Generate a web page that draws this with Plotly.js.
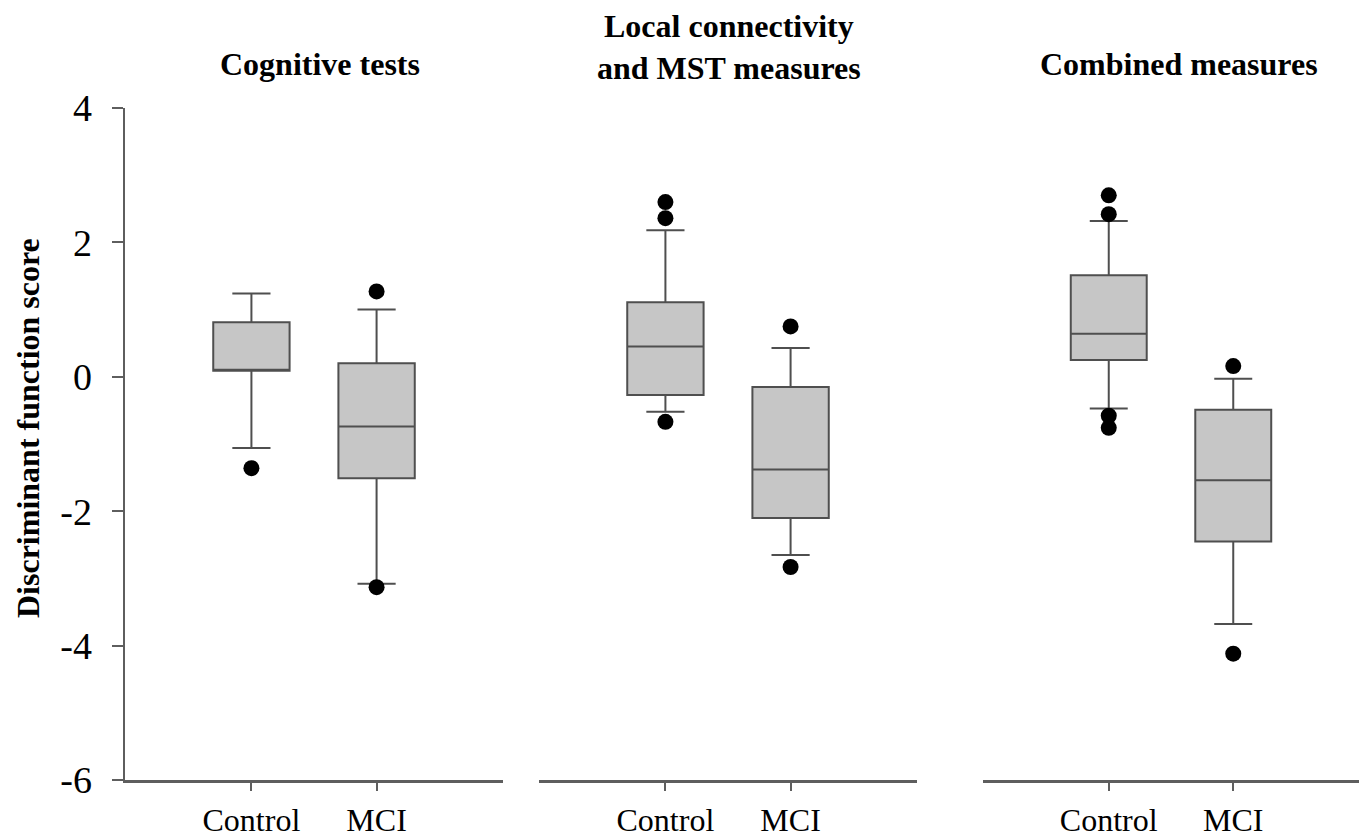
<!DOCTYPE html>
<html>
<head>
<meta charset="utf-8">
<script src="https://cdn.plot.ly/plotly-3.0.1.min.js"></script>
<style>html,body{margin:0;padding:0;background:#fff;}#chart{width:1364px;height:837px;}</style>
</head>
<body>
<div id="chart"></div>
<script>
// Categories and panel titles
const groups = ['Control', 'MCI'];
const panelTitles = ['Cognitive tests', 'Local connectivity<br>and MST measures', 'Combined measures'];
const yTitle = 'Discriminant function score';
const yTickVals = [-6, -4, -2, 0, 2, 4];
const yTickText = ['-6', '-4', '-2', '0', '2', '4'];

// Panel 1: Cognitive tests
const cogLow    = [-1.06, -3.08];
const cogQ1     = [0.09, -1.51];
const cogMedian = [0.09, -0.74];
const cogQ3     = [0.81, 0.20];
const cogHigh   = [1.24, 1.00];
const cogOutX   = ['Control', 'MCI', 'MCI'];
const cogOutY   = [-1.36, 1.27, -3.13];

// Panel 2: Local connectivity and MST measures
const locLow    = [-0.52, -2.65];
const locQ1     = [-0.27, -2.10];
const locMedian = [0.45, -1.38];
const locQ3     = [1.11, -0.15];
const locHigh   = [2.18, 0.43];
const locOutX   = ['Control', 'Control', 'Control', 'MCI', 'MCI'];
const locOutY   = [2.60, 2.36, -0.67, 0.75, -2.83];

// Panel 3: Combined measures
const combLow    = [-0.47, -3.68];
const combQ1     = [0.25, -2.45];
const combMedian = [0.64, -1.54];
const combQ3     = [1.51, -0.49];
const combHigh   = [2.32, -0.03];
const combOutX   = ['Control', 'Control', 'Control', 'Control', 'MCI', 'MCI'];
const combOutY   = [2.70, 2.42, -0.58, -0.76, 0.16, -4.12];

const serif = 'Liberation Serif, Times New Roman, serif';
const lineCol = '#4f4f4f';
const axCol = '#5e5e5e';
const fillCol = '#c6c6c6';

function boxTrace(low, q1, med, q3, high, xa, ya) {
  return {
    type: 'box', x: groups, q1: q1, median: med, q3: q3,
    lowerfence: low, upperfence: high,
    boxpoints: false, width: 0.61, whiskerwidth: 0.5,
    fillcolor: fillCol, line: {color: lineCol, width: 2},
    xaxis: xa, yaxis: ya, showlegend: false, hoverinfo: 'y'
  };
}
function outTrace(xs, ys, xa, ya) {
  return {
    type: 'scatter', mode: 'markers', x: xs, y: ys,
    marker: {color: '#000', size: 16},
    xaxis: xa, yaxis: ya, showlegend: false, hoverinfo: 'y'
  };
}

const data = [
  boxTrace(cogLow, cogQ1, cogMedian, cogQ3, cogHigh, 'x', 'y'),
  outTrace(cogOutX, cogOutY, 'x', 'y'),
  boxTrace(locLow, locQ1, locMedian, locQ3, locHigh, 'x2', 'y2'),
  outTrace(locOutX, locOutY, 'x2', 'y2'),
  boxTrace(combLow, combQ1, combMedian, combQ3, combHigh, 'x3', 'y3'),
  outTrace(combOutX, combOutY, 'x3', 'y3')
];

const W = 1364;
function xAxis(l, r) {
  return {
    domain: [l / W, r / W], type: 'category', categoryarray: groups,
    range: [-1.01, 2.01], showline: true, linecolor: axCol, linewidth: 2.5,
    ticks: 'outside', ticklen: 8, tickwidth: 2, tickcolor: axCol,
    showgrid: false, zeroline: false, fixedrange: true,
    tickfont: {family: serif, size: 32, color: '#000'},
    ticklabelstandoff: 2
  };
}
function yHidden() {
  return {range: [-6, 4], showline: false, showticklabels: false, ticks: '',
          showgrid: false, zeroline: false, fixedrange: true};
}

const titleFont = {family: serif, size: 32, color: '#000'};
const layout = {
  width: 1364, height: 837,
  margin: {l: 0, r: 0, t: 108, b: 57},
  paper_bgcolor: '#fff', plot_bgcolor: '#fff',
  showlegend: false,
  xaxis: xAxis(125, 503),
  xaxis2: Object.assign(xAxis(539, 917), {anchor: 'y2'}),
  xaxis3: Object.assign(xAxis(983, 1359), {anchor: 'y3'}),
  yaxis: {
    range: [-6, 4], tickvals: yTickVals, ticktext: yTickText,
    showline: true, linecolor: axCol, linewidth: 2.5,
    ticks: 'outside', ticklen: 11, tickwidth: 2, tickcolor: axCol,
    showgrid: false, zeroline: false, fixedrange: true,
    tickfont: {family: serif, size: 38, color: '#000'},
    ticklabelstandoff: 12
  },
  yaxis2: Object.assign(yHidden(), {anchor: 'x2'}),
  yaxis3: Object.assign(yHidden(), {anchor: 'x3'}),
  annotations: [
    {text: '<b>' + panelTitles[0] + '</b>', xref: 'paper', yref: 'paper', x: 320 / W, y: (780 - 64) / 672,
     xanchor: 'center', yanchor: 'middle', showarrow: false, font: titleFont},
    {text: '<b>' + panelTitles[1].replace('<br>', '</b><br><b>') + '</b>', xref: 'paper', yref: 'paper', x: 729 / W, y: (780 - 47) / 672,
     xanchor: 'center', yanchor: 'middle', showarrow: false, font: titleFont},
    {text: '<b>' + panelTitles[2] + '</b>', xref: 'paper', yref: 'paper', x: 1179 / W, y: (780 - 64) / 672,
     xanchor: 'center', yanchor: 'middle', showarrow: false, font: titleFont},
    {text: '<b>' + yTitle + '</b>', xref: 'paper', yref: 'paper', x: 28 / W, y: (780 - 428) / 672,
     xanchor: 'center', yanchor: 'middle', textangle: -90, showarrow: false,
     font: {family: serif, size: 32, color: '#000'}}
  ]
};

Plotly.newPlot('chart', data, layout, {displayModeBar: false, staticPlot: true});
</script>
</body>
</html>
